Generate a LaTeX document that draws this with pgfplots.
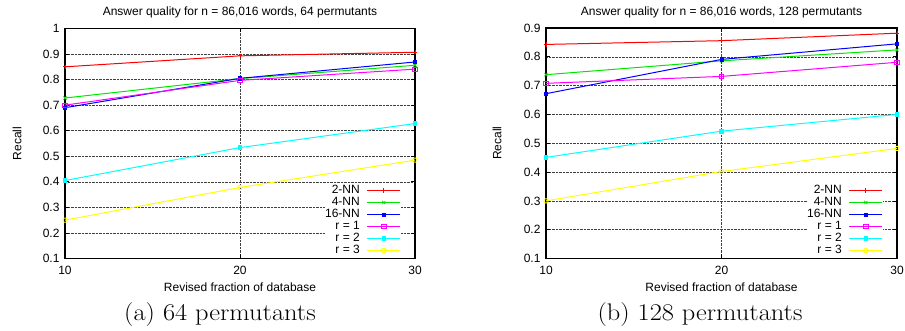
\documentclass[border=0pt]{standalone}
\usepackage{fontspec}
\usepackage{pgfplots}
\pgfplotsset{compat=1.18}
\newfontfamily\arial{Liberation Sans}
\definecolor{gpred}{RGB}{255,0,0}
\definecolor{gpgreen}{RGB}{0,230,0}
\definecolor{gpblue}{RGB}{0,0,255}
\definecolor{gpmag}{RGB}{255,0,255}
\definecolor{gpcyan}{RGB}{0,255,255}
\definecolor{gpyel}{RGB}{255,255,0}
\pgfplotsset{gp/.style={
  scale only axis,
  xmin=10, xmax=30, xtick={10,20,30},
  grid=major,
  major grid style={black!75, densely dotted, line width=0.6pt},
  tick align=inside, major tick length=4pt,
  tick style={black, line width=0.7pt},
  axis line style={black, line width=1.2pt},
  /pgf/number format/assume math mode=true,
  tick label style={font=\arial\fontsize{12}{14}\selectfont},
  xticklabel style={yshift=-4.5pt},
  yticklabel style={xshift=-2pt},
  label style={font=\arial\fontsize{12}{14}\selectfont},
  title style={font=\arial\fontsize{12}{14}\selectfont, at={(0.5,1)}, anchor=base, yshift=7pt},
  xlabel={Revised fraction of database},
  ylabel={Recall},
  xlabel style={at={(axis description cs:0.5,0)}, anchor=base, yshift=-33.5pt},
  clip=false,
  legend cell align=right,
  legend plot pos=right,
  legend style={draw=none, fill=white, at={(1,0)}, anchor=south east, xshift=-14pt,
    inner xsep=0pt, inner ysep=1.75pt, column sep=7pt, row sep=0pt,
    font=\arial\fontsize{12}{12}\selectfont,
    nodes={inner xsep=0pt, inner ysep=0pt, text height=9pt, text depth=3pt}},
  legend image code/.code={\draw[mark repeat=2,mark phase=2] plot coordinates {(0pt,0pt) (16.5pt,0pt) (33pt,0pt)};},
  every axis plot/.append style={line width=1pt, mark size=2.2pt, mark options={solid, line width=0.8pt}},
}}
\begin{document}
\begin{tikzpicture}
\path[use as bounding box] (0,0) rectangle (905pt,331pt);
\begin{axis}[gp, at={(65pt,72.5pt)}, anchor=south west, width=350pt, height=230pt,
  ymin=0.1, ymax=1, ytick={0.1,0.2,0.3,0.4,0.5,0.6,0.7,0.8,0.9,1},
  ylabel style={at={(axis description cs:-0.137,0.5)}, anchor=center},
  title={Answer quality for n = 86,016 words, 64 permutants}]
\addplot[gpred, mark=+] coordinates {(10,0.850) (20,0.893) (30,0.907)};
\addlegendentry{2-NN}
\addplot[gpgreen, mark=x] coordinates {(10,0.728) (20,0.804) (30,0.856)};
\addlegendentry{4-NN}
\addplot[gpblue, mark=square*, mark size=1.6pt] coordinates {(10,0.690) (20,0.805) (30,0.869)};
\addlegendentry{16-NN}
\addplot[gpmag, mark=square] coordinates {(10,0.700) (20,0.797) (30,0.841)};
\addlegendentry{r = 1}
\addplot[gpcyan, mark=square*, mark size=1.8pt] coordinates {(10,0.405) (20,0.534) (30,0.628)};
\addlegendentry{r = 2}
\addplot[gpyel, mark=o] coordinates {(10,0.250) (20,0.378) (30,0.485)};
\addlegendentry{r = 3}
\end{axis}
\begin{axis}[gp, at={(546pt,72.5pt)}, anchor=south west, width=351pt, height=230.5pt,
  ymin=0.1, ymax=0.9, ytick={0.1,0.2,0.3,0.4,0.5,0.6,0.7,0.8,0.9},
  ylabel style={at={(axis description cs:-0.1396,0.5)}, anchor=center},
  title={Answer quality for n = 86,016 words, 128 permutants}]
\addplot[gpred, mark=+] coordinates {(10,0.843) (20,0.856) (30,0.882)};
\addlegendentry{2-NN}
\addplot[gpgreen, mark=x] coordinates {(10,0.738) (20,0.786) (30,0.824)};
\addlegendentry{4-NN}
\addplot[gpblue, mark=square*, mark size=1.6pt] coordinates {(10,0.672) (20,0.791) (30,0.845)};
\addlegendentry{16-NN}
\addplot[gpmag, mark=square] coordinates {(10,0.708) (20,0.732) (30,0.781)};
\addlegendentry{r = 1}
\addplot[gpcyan, mark=square*, mark size=1.8pt] coordinates {(10,0.451) (20,0.542) (30,0.600)};
\addlegendentry{r = 2}
\addplot[gpyel, mark=o] coordinates {(10,0.300) (20,0.402) (30,0.482)};
\addlegendentry{r = 3}
\end{axis}
\node[anchor=base, font=\fontsize{24}{28}\selectfont, inner sep=0pt, xscale=1.1, transform shape] at (220pt,10pt) {(a) 64 permutants};
\node[anchor=base, font=\fontsize{24}{28}\selectfont, inner sep=0pt, xscale=1.1, transform shape] at (700pt,10pt) {(b) 128 permutants};
\end{tikzpicture}
\end{document}
